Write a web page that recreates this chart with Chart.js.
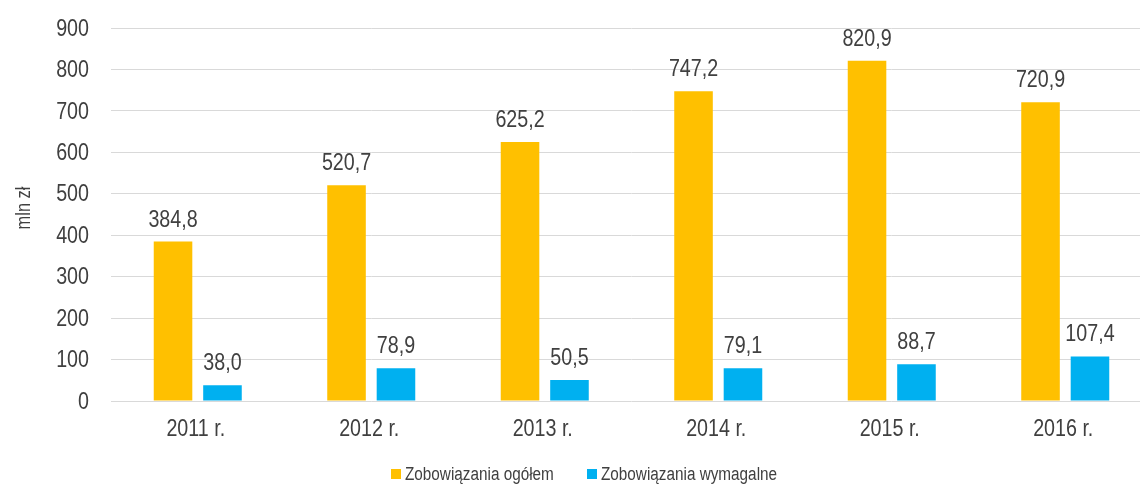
<!DOCTYPE html>
<html><head><meta charset="utf-8">
<script src="https://cdn.jsdelivr.net/npm/chart.js@4.4.1/dist/chart.umd.min.js"></script>
<style>
html,body{margin:0;padding:0;background:#fff;overflow:hidden;width:1140px;height:484px;}
#wrap{position:relative;width:1152px;height:484px;}
#legend{position:absolute;left:0;top:464px;width:1140px;height:20px;font-family:'Liberation Sans',Arial,sans-serif;font-size:18px;color:#404040;}
.item{position:absolute;top:0;height:20px;}
.box{position:absolute;top:5px;left:0;width:10px;height:10px;}
.txt{position:absolute;top:0;left:14px;line-height:20px;white-space:nowrap;transform:scaleX(0.85);transform-origin:0 50%;}
</style></head><body>
<div id="wrap"><canvas id="c"></canvas></div>
<div id="legend"></div>
<script>
const categories = ['2011 r.', '2012 r.', '2013 r.', '2014 r.', '2015 r.', '2016 r.'];
const totalLiabilities = [384.8, 520.7, 625.2, 747.2, 820.9, 720.9];
const dueLiabilities = [38.0, 78.9, 50.5, 79.1, 88.7, 107.4];
const seriesNames = ['Zobowiązania ogółem', 'Zobowiązania wymagalne'];
const seriesColors = ['#FFC000', '#00B0F0'];
const yTicks = [0, 100, 200, 300, 400, 500, 600, 700, 800, 900];
const yTitle = 'mln zł';

const FONT = "'Liberation Sans', Arial, sans-serif";
const TXT = '#404040';
const SX = 0.82; // narrow-face horizontal compression
const fmt = v => v.toFixed(1).replace('.', ',');

function narrowText(ctx, text, x, y, align, baseline, size, rot) {
  ctx.save();
  ctx.translate(x, y);
  if (rot) ctx.rotate(rot);
  ctx.scale(SX, 1);
  ctx.font = size + 'px ' + FONT;
  ctx.fillStyle = TXT;
  ctx.textAlign = align;
  ctx.textBaseline = baseline;
  ctx.fillText(text, 0, 0);
  ctx.restore();
}

const textPlugin = {
  id: 'narrowTexts',
  afterDraw(chart) {
    const ctx = chart.ctx;
    const ys = chart.scales.y, xs = chart.scales.x, area = chart.chartArea;
    ys.ticks.forEach(t => {
      narrowText(ctx, String(t.value), 89, ys.getPixelForValue(t.value) + 1, 'right', 'middle', 24);
    });
    categories.forEach((c, i) => {
      narrowText(ctx, c, xs.getPixelForValue(i) - 2, area.bottom + 35, 'center', 'alphabetic', 24);
    });
    chart.data.datasets.forEach((ds, i) => {
      chart.getDatasetMeta(i).data.forEach((el, j) => {
        narrowText(ctx, fmt(ds.data[j]), el.x, el.y - 15, 'center', 'alphabetic', 24);
      });
    });
    narrowText(ctx, yTitle, 24, 208, 'center', 'middle', 20, -Math.PI / 2);
  }
};

const chart = new Chart(document.getElementById('c'), {
  type: 'bar',
  data: {
    labels: categories,
    datasets: [
      { label: seriesNames[0], data: totalLiabilities, backgroundColor: seriesColors[0], categoryPercentage: 0.57, barPercentage: 0.78 },
      { label: seriesNames[1], data: dueLiabilities, backgroundColor: seriesColors[1], categoryPercentage: 0.57, barPercentage: 0.78 }
    ]
  },
  options: {
    responsive: true,
    maintainAspectRatio: false,
    animation: false,
    layout: { padding: { top: 28, left: 0, right: 0, bottom: 0 } },
    plugins: {
      legend: { display: false },
      tooltip: { enabled: false }
    },
    scales: {
      x: {
        grid: { display: false, drawTicks: false },
        border: { display: false },
        ticks: { display: false },
        afterFit: a => { a.height = 83; }
      },
      y: {
        min: 0, max: 900,
        afterBuildTicks: axis => { axis.ticks = yTicks.map(v => ({ value: v })); },
        grid: { color: '#d9d9d9', lineWidth: 1, drawTicks: false },
        border: { display: false },
        ticks: { display: false },
        afterFit: a => { a.width = 111; }
      }
    }
  },
  plugins: [textPlugin]
});

// legend built from the series
const legendPos = [391, 587];
const leg = document.getElementById('legend');
seriesNames.forEach((n, i) => {
  const it = document.createElement('div');
  it.className = 'item';
  it.style.left = legendPos[i] + 'px';
  it.innerHTML = '<div class="box" style="background:' + seriesColors[i] + '"></div><span class="txt"></span>';
  it.querySelector('.txt').textContent = n;
  leg.appendChild(it);
});
</script>
</body></html>
